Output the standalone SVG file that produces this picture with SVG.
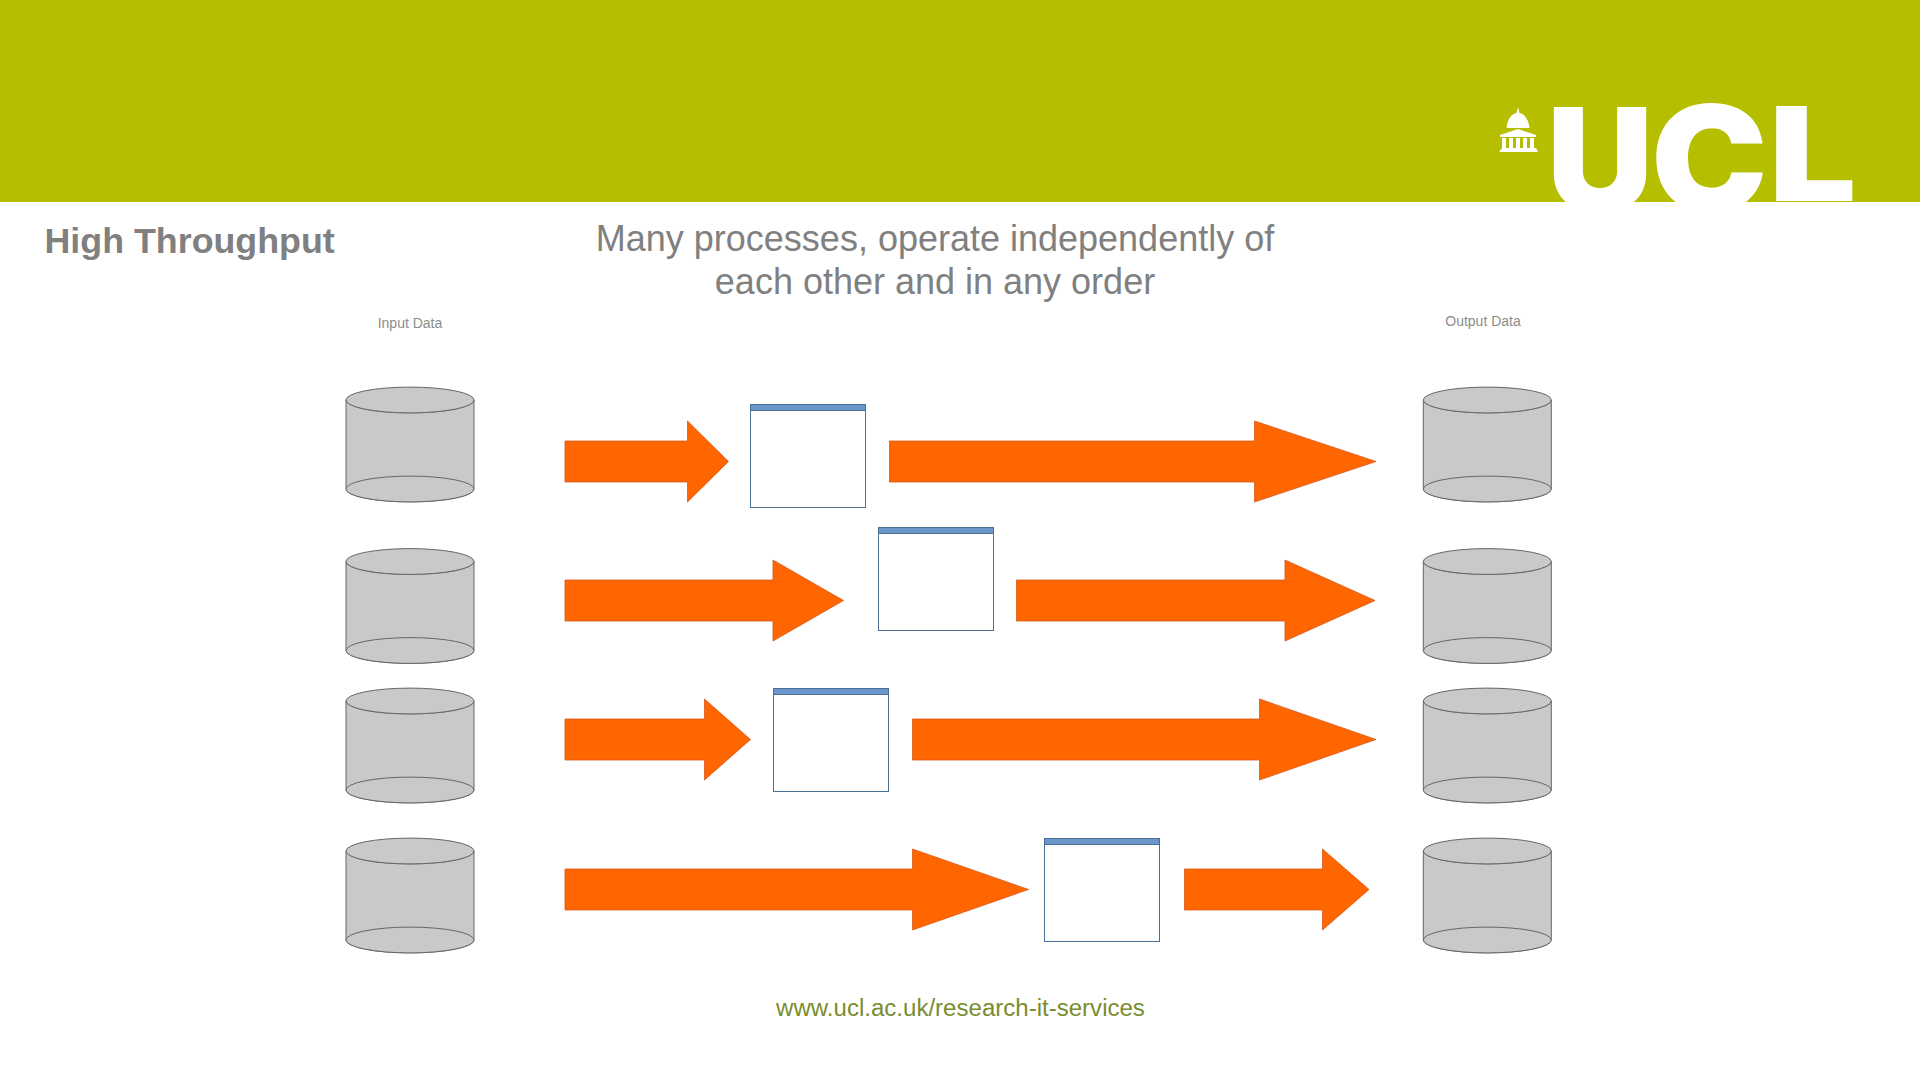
<svg xmlns="http://www.w3.org/2000/svg" width="1920" height="1080" viewBox="0 0 1920 1080">
<style>
text{font-family:"Liberation Sans",Arial,sans-serif;fill:#808080}
.cyl{fill:#c9c9c9;stroke:#666;stroke-width:1}
.arrow{fill:#ff6600;stroke:#d8591a;stroke-width:.8}
.box{fill:#fff;stroke:#4a6f94;stroke-width:1}
.bar{fill:#6b96cc;stroke:#4a6f94;stroke-width:1}
.logo{font-family:Inter,"Liberation Sans",sans-serif;font-weight:900;font-size:130px;fill:#fff}
.small{font-size:14px;text-anchor:middle;fill:#8c8c8c}
.title{font-size:36px;text-anchor:middle}
</style>
<defs>
<clipPath id="hdr"><rect x="0" y="0" width="1920" height="202"/></clipPath>
<g id="cylinder">
<path class="cyl" d="M-64 -44.5V44.5A64 12.9 0 0 0 64 44.5V-44.5A64 12.9 0 0 1 -64 -44.5Z"/>
<ellipse class="cyl" cx="0" cy="-44.5" rx="64" ry="12.9"/>
<ellipse class="cyl" cx="0" cy="44.5" rx="64" ry="12.9"/>
</g>
<g id="window">
<rect class="box" x="0" y="0" width="115" height="103"/>
<rect class="bar" x="0" y="0" width="115" height="6"/>
</g>
</defs>
<rect id="header" x="0" y="0" width="1920" height="202" fill="#b6be00"/>
<g id="logo" clip-path="url(#hdr)">
<text class="logo" transform="translate(1547 212) scale(1.13 1.115)">U</text>
<text class="logo" transform="translate(1651 212) scale(1.2 1.135)">C</text>
<text class="logo" transform="translate(1769 201) scale(1.19 1)">L</text>
<g fill="#fff">
<path d="M1518 107l1.500 6c5 1 9 6 10 15h-23c1-9 5-14 10-15z"/>
<path d="M1500 135l18-6 18 6v2h-36z"/>
<path d="M1502 138h4v10h-4zM1509 138h4v10h-4zM1516 138h4v10h-4zM1523 138h4v10h-4zM1530 138h4v10h-4z"/>
<path d="M1502 148h34l2 4h-39z"/>
</g>
</g>
<text id="heading" x="44.500" y="253" font-size="35.800" font-weight="bold">High Throughput</text>
<text id="subtitle" class="title"><tspan x="935" y="251">Many processes, operate independently of</tspan><tspan x="935" y="294">each other and in any order</tspan></text>
<text id="label-input" class="small" x="410" y="328">Input Data</text>
<text id="label-output" class="small" x="1483" y="326">Output Data</text>
<text id="url" x="960.500" y="1016" font-size="24.050" text-anchor="middle" style="fill:#7a8c2e">www.ucl.ac.uk/research-it-services</text>
<g id="input-1"><use href="#cylinder" x="410" y="444.500"/></g>
<g id="input-2"><use href="#cylinder" x="410" y="606"/></g>
<g id="input-3"><use href="#cylinder" x="410" y="745.500"/></g>
<g id="input-4"><use href="#cylinder" x="410" y="895.500"/></g>
<g id="output-1"><use href="#cylinder" x="1487.300" y="444.500"/></g>
<g id="output-2"><use href="#cylinder" x="1487.300" y="606"/></g>
<g id="output-3"><use href="#cylinder" x="1487.300" y="745.500"/></g>
<g id="output-4"><use href="#cylinder" x="1487.300" y="895.500"/></g>
<g id="process-1"><use href="#window" x="750.500" y="404.500"/></g>
<g id="process-2"><use href="#window" x="878.500" y="527.500"/></g>
<g id="process-3"><use href="#window" x="773.500" y="688.500"/></g>
<g id="process-4"><use href="#window" x="1044.500" y="838.500"/></g>
<g id="connectors">
<polygon class="arrow" points="565,441 687.500,441 687.500,421 728.500,461.500 687.500,502 687.500,482 565,482"/>
<polygon class="arrow" points="889.500,441 1254.500,441 1254.500,421 1376,461.500 1254.500,502 1254.500,482 889.500,482"/>
<polygon class="arrow" points="565,580 773,580 773,560 843.500,600.500 773,641 773,621 565,621"/>
<polygon class="arrow" points="1016.500,580 1285,580 1285,560 1375,600.500 1285,641 1285,621 1016.500,621"/>
<polygon class="arrow" points="565,719 704.500,719 704.500,699 750.500,739.500 704.500,780 704.500,760 565,760"/>
<polygon class="arrow" points="912.500,719 1259.500,719 1259.500,699 1376,739.500 1259.500,780 1259.500,760 912.500,760"/>
<polygon class="arrow" points="565,869 912.500,869 912.500,849 1028.500,889.500 912.500,930 912.500,910 565,910"/>
<polygon class="arrow" points="1184.500,869 1322.500,869 1322.500,849 1369,889.500 1322.500,930 1322.500,910 1184.500,910"/>
</g>
</svg>
